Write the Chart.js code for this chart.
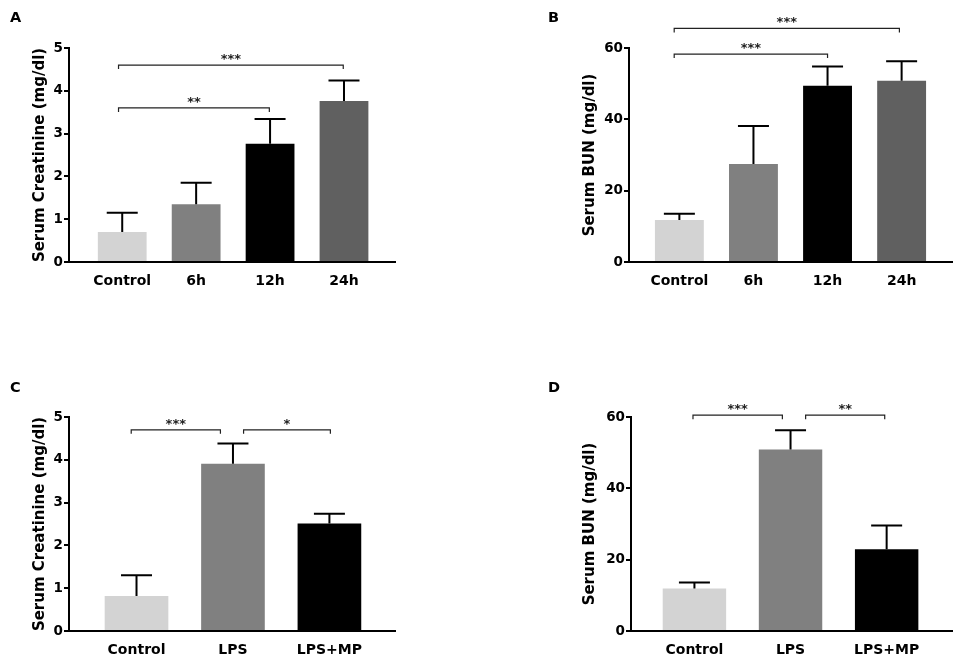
<!DOCTYPE html>
<html>
<head>
<meta charset="utf-8">
<script src="https://cdn.jsdelivr.net/npm/chart.js@4.4.1/dist/chart.umd.min.js"></script>
<style>
  body { margin: 0; background: #fff; }
  #page { position: relative; width: 957px; height: 659px; overflow: hidden; }
  canvas { position: absolute; }
</style>
</head>
<body>
<div id="page">
  <canvas id="panelA" width="478" height="329" style="left:0;top:0"></canvas>
  <canvas id="panelB" width="479" height="329" style="left:478px;top:0"></canvas>
  <canvas id="panelC" width="478" height="330" style="left:0;top:329px"></canvas>
  <canvas id="panelD" width="479" height="330" style="left:478px;top:329px"></canvas>
</div>
<script>
// categories
const timeGroups = ['Control', '6h', '12h', '24h'];
const treatGroups = ['Control', 'LPS', 'LPS+MP'];

// means and SD (upper error bar only)
const creatTimeMean = [0.70, 1.35, 2.76, 3.76];
const creatTimeSd = [0.45, 0.50, 0.58, 0.48];
const bunTimeMean = [11.8, 27.5, 49.4, 50.8];
const bunTimeSd = [1.7, 10.6, 5.4, 5.5];
const creatTreatMean = [0.82, 3.91, 2.51];
const creatTreatSd = [0.48, 0.47, 0.23];
const bunTreatMean = [11.9, 50.9, 22.9];
const bunTreatSd = [1.7, 5.4, 6.7];

// y tick settings
const creatTicks = { max: 5, step: 1 };
const bunTicks = { max: 60, step: 20 };

// significance brackets: from / to in group units, height in y units
const sigA = [
  { from: -0.05, to: 1.99, y: 3.6, text: '**' },
  { from: -0.05, to: 2.99, y: 4.6, text: '***' }
];
const sigB = [
  { from: -0.07, to: 2.0, y: 58.3, text: '***' },
  { from: -0.07, to: 2.97, y: 65.5, text: '***' }
];
const sigC = [
  { from: -0.055, to: 0.87, y: 4.7, text: '***' },
  { from: 1.11, to: 2.01, y: 4.7, text: '*' }
];
const sigD = [
  { from: -0.015, to: 0.915, y: 60.5, text: '***' },
  { from: 1.157, to: 1.98, y: 60.5, text: '**' }
];

const timeColors = ['#d3d3d3', '#808080', '#000000', '#606060'];
const treatColors = ['#d3d3d3', '#808080', '#000000'];

const FONT = "'DejaVu Sans', Verdana, sans-serif";

// error bars + brackets + panel letter
const extrasPlugin = {
  id: 'extras',
  afterDatasetsDraw(chart, args, opts) {
    const ctx = chart.ctx;
    const xs = chart.scales.x, ys = chart.scales.y;
    const meta = chart.getDatasetMeta(0);
    ctx.save();
    ctx.strokeStyle = '#000';
    ctx.lineWidth = 2;
    meta.data.forEach((bar, i) => {
      const top = ys.getPixelForValue(opts.means[i] + opts.sds[i]);
      ctx.beginPath();
      ctx.moveTo(bar.x, bar.y);
      ctx.lineTo(bar.x, top);
      ctx.moveTo(bar.x - 15.5, top);
      ctx.lineTo(bar.x + 15.5, top);
      ctx.stroke();
    });

    ctx.lineWidth = 1.2;
    ctx.strokeStyle = '#222';
    ctx.fillStyle = '#222';
    ctx.font = 'bold 13px ' + FONT;
    ctx.textAlign = 'center';
    ctx.textBaseline = 'alphabetic';
    opts.sig.forEach(s => {
      const x1 = xs.getPixelForValue(s.from);
      const x2 = xs.getPixelForValue(s.to);
      const y = ys.getPixelForValue(s.y);
      ctx.beginPath();
      ctx.moveTo(x1, y + 4);
      ctx.lineTo(x1, y);
      ctx.lineTo(x2, y);
      ctx.lineTo(x2, y + 4);
      ctx.stroke();
      ctx.fillText(s.text, (x1 + x2) / 2, y - 2);
    });

    ctx.fillStyle = '#000';
    ctx.font = 'bold 14.5px ' + FONT;
    ctx.textAlign = 'left';
    ctx.fillText(opts.letter, opts.letterX, opts.letterY);
    ctx.restore();
  }
};

function makePanel(id, p) {
  const W = p.w, H = p.h;
  const yW = 60, xH = 45;
  const titleFont = 15;
  new Chart(document.getElementById(id), {
    type: 'bar',
    data: {
      datasets: [{
        data: p.means.map((v, i) => ({ x: i, y: v })),
        backgroundColor: p.colors,
        borderWidth: 0,
        categoryPercentage: 1,
        barPercentage: 0.66
      }]
    },
    options: {
      responsive: false,
      animation: false,
      layout: {
        padding: {
          left: p.area.l - yW,
          right: W - p.area.r,
          top: p.area.t,
          bottom: H - p.area.b - xH
        }
      },
      plugins: {
        legend: { display: false },
        tooltip: { enabled: false },
        extras: {
          means: p.means, sds: p.sds, sig: p.sig,
          letter: p.letter, letterX: p.letterX, letterY: p.letterY
        }
      },
      scales: {
        x: {
          type: 'linear',
          offset: false,
          min: p.xMin,
          max: p.xMax,
          afterBuildTicks: s => { s.ticks = p.labels.map((_, i) => ({ value: i })); },
          afterFit: s => { s.height = xH; s.paddingLeft = 0; s.paddingRight = 0; },
          grid: { display: false, drawTicks: false },
          border: { display: true, color: '#000', width: 2 },
          ticks: {
            autoSkip: false,
            maxRotation: 0,
            padding: 11,
            color: '#000',
            font: { family: FONT, size: 14, weight: 'bold' },
            callback: v => p.labels[v]
          }
        },
        y: {
          min: 0,
          max: p.ticks.max,
          afterFit: s => { s.width = yW; s.paddingTop = 0; s.paddingBottom = 0; },
          grid: { display: true, drawOnChartArea: false, drawTicks: true, tickLength: 5, color: '#000', lineWidth: 2 },
          border: { display: true, color: '#000', width: 2 },
          ticks: {
            stepSize: p.ticks.step,
            padding: 1,
            color: '#000',
            font: { family: FONT, size: 13.5, weight: 'bold' }
          },
          title: {
            display: true,
            text: p.title,
            color: '#000',
            font: { family: FONT, size: titleFont, weight: 'bold' },
            padding: { top: p.titleX - (p.area.l - yW) - titleFont * 0.6, bottom: 0 }
          }
        }
      }
    },
    plugins: [extrasPlugin]
  });
}

makePanel('panelA', {
  w: 478, h: 329, area: { l: 69, r: 395, t: 48, b: 262 },
  xMin: -0.72, xMax: 3.69, labels: timeGroups, colors: timeColors,
  means: creatTimeMean, sds: creatTimeSd, ticks: creatTicks, sig: sigA,
  title: 'Serum Creatinine (mg/dl)', titleX: 40.5,
  letter: 'A', letterX: 10, letterY: 22
});
makePanel('panelB', {
  w: 479, h: 329, area: { l: 151, r: 474, t: 48, b: 262 },
  xMin: -0.68, xMax: 3.68, labels: timeGroups, colors: timeColors,
  means: bunTimeMean, sds: bunTimeSd, ticks: bunTicks, sig: sigB,
  title: 'Serum BUN (mg/dl)', titleX: 112,
  letter: 'B', letterX: 70, letterY: 22
});
makePanel('panelC', {
  w: 478, h: 330, area: { l: 69, r: 395, t: 88, b: 302 },
  xMin: -0.70, xMax: 2.68, labels: treatGroups, colors: treatColors,
  means: creatTreatMean, sds: creatTreatSd, ticks: creatTicks, sig: sigC,
  title: 'Serum Creatinine (mg/dl)', titleX: 40.5,
  letter: 'C', letterX: 10, letterY: 63
});
makePanel('panelD', {
  w: 479, h: 330, area: { l: 153, r: 474, t: 88, b: 302 },
  xMin: -0.66, xMax: 2.68, labels: treatGroups, colors: treatColors,
  means: bunTreatMean, sds: bunTreatSd, ticks: bunTicks, sig: sigD,
  title: 'Serum BUN (mg/dl)', titleX: 111.7,
  letter: 'D', letterX: 70, letterY: 63
});
</script>
</body>
</html>
